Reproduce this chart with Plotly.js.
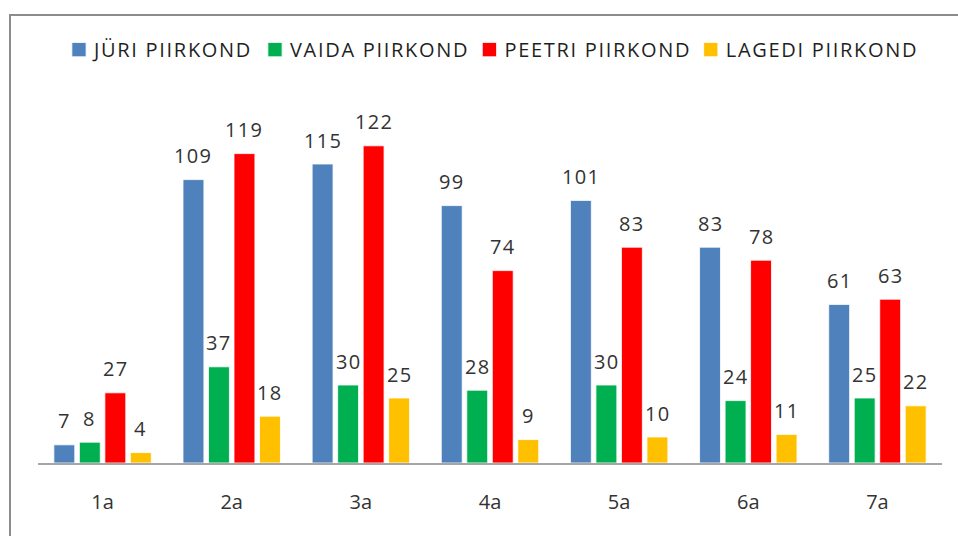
<!DOCTYPE html>
<html>
<head>
<meta charset="utf-8">
<script src="https://cdn.plot.ly/plotly-3.0.1.min.js"></script>
<style>
  html, body { margin: 0; padding: 0; background: #ffffff; }
  #frame { position: absolute; left: 9px; top: 14px; width: 960px; height: 540px;
           border-left: 2px solid #8c8c8c; border-top: 2px solid #8c8c8c; z-index: 0; }
  #chart { position: absolute; left: 0; top: 0; width: 958px; height: 536px; z-index: 1; }
  .legendtext { letter-spacing: 1.0px; }
  .legend .legendtext { letter-spacing: 1.7px; transform: translateX(-5px); }
  .legend .legendpoints path { transform: translate(20px, 0px) scale(1.2); }
  .annotation-text { letter-spacing: 1.3px; }
</style>
</head>
<body>
<div id="frame"></div>
<div id="chart"></div>
<script>
const categories = ["1a", "2a", "3a", "4a", "5a", "6a", "7a"];
const seriesNames = ["JÜRI PIIRKOND", "VAIDA PIIRKOND", "PEETRI PIIRKOND", "LAGEDI PIIRKOND"];
const juri   = [7, 109, 115, 99, 101, 83, 61];
const vaida  = [8, 37, 30, 28, 30, 24, 25];
const peetri = [27, 119, 122, 74, 83, 78, 63];
const lagedi = [4, 18, 25, 9, 10, 11, 22];
const colors = ["#4F81BD", "#00B050", "#FF0000", "#FFC000"];

const allSeries = [juri, vaida, peetri, lagedi];

const W = 958, H = 536;
const margin = { l: 38, r: 16, t: 73, b: 73, pad: 0 };
const bargap = 0.21;
const bargroupgap = 0.18;
const plotW = W - margin.l - margin.r;
const catW = plotW / categories.length;
const slot = catW * (1 - bargap) / allSeries.length;

const textFont = { family: "Open Sans, sans-serif", size: 20, color: "#333333" };

const traces = allSeries.map((vals, i) => ({
  type: "bar",
  name: seriesNames[i],
  x: categories,
  y: vals,
  marker: { color: colors[i], line: { color: "rgba(255,255,255,0.8)", width: 1 } },
  hoverinfo: "x+y+name"
}));

const annotations = [];
allSeries.forEach((vals, i) => {
  const off = (i - (allSeries.length - 1) / 2) * slot;
  vals.forEach((v, j) => {
    annotations.push({
      x: categories[j], y: v, xref: "x", yref: "y",
      text: String(v), showarrow: false,
      xanchor: "center", yanchor: "middle",
      xshift: off, yshift: 24,
      font: textFont
    });
  });
});

const layout = {
  width: W, height: H,
  margin: margin,
  paper_bgcolor: "rgba(0,0,0,0)",
  plot_bgcolor: "rgba(0,0,0,0)",
  barmode: "group",
  bargap: bargap,
  bargroupgap: bargroupgap,
  showlegend: true,
  legend: {
    orientation: "h",
    x: 0.0232, xanchor: "left",
    y: 1.06, yanchor: "middle",
    font: { family: "Open Sans, sans-serif", size: 20, color: "#1f1f1f" },
    itemwidth: 30,
    tracegroupgap: 0,
    bgcolor: "rgba(0,0,0,0)"
  },
  xaxis: {
    type: "category",
    showline: true, linecolor: "#a6a6a6", linewidth: 2,
    ticks: "", showgrid: false, zeroline: false,
    tickfont: textFont,
    ticklabelstandoff: 20
  },
  yaxis: {
    range: [0, 150],
    visible: false, showgrid: false, zeroline: false
  },
  annotations: annotations
};

Plotly.newPlot("chart", traces, layout, { displayModeBar: false, staticPlot: true });
</script>
</body>
</html>
